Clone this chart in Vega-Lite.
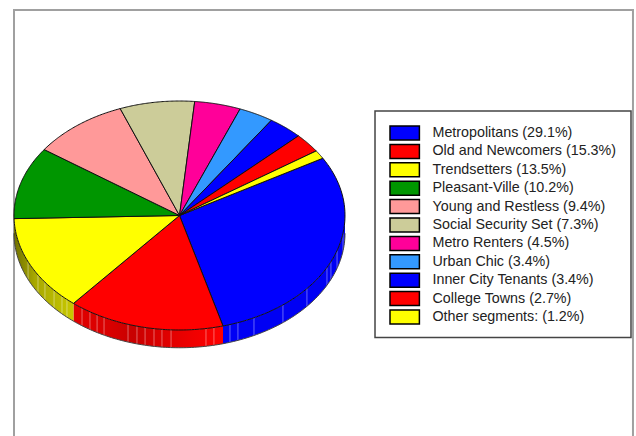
{
  "$schema": "https://vega.github.io/schema/vega-lite/v6.json",
  "width": 636,
  "height": 436,
  "padding": 0,
  "autosize": "none",
  "background": "white",
  "config": {
    "view": {"stroke": null}
  },
  "datasets": {
    "segments": [
      {"label": "Metropolitans (29.1%)", "share": 29.1},
      {"label": "Old and Newcomers (15.3%)", "share": 15.3},
      {"label": "Trendsetters (13.5%)", "share": 13.5},
      {"label": "Pleasant-Ville (10.2%)", "share": 10.2},
      {"label": "Young and Restless (9.4%)", "share": 9.4},
      {"label": "Social Security Set (7.3%)", "share": 7.3},
      {"label": "Metro Renters (4.5%)", "share": 4.5},
      {"label": "Urban Chic (3.4%)", "share": 3.4},
      {"label": "Inner City Tenants (3.4%)", "share": 3.4},
      {"label": "College Towns (2.7%)", "share": 2.7},
      {"label": "Other segments: (1.2%)", "share": 1.2}
    ],
    "rimHighlights": [
      {"rim": -0.915}, {"rim": -0.855}, {"rim": -0.813}, {"rim": -0.758}, {"rim": -0.71}, {"rim": -0.68},
      {"rim": -0.589}, {"rim": -0.541}, {"rim": -0.498}, {"rim": -0.456}, {"rim": -0.311}, {"rim": -0.257},
      {"rim": -0.208}, {"rim": -0.154}, {"rim": -0.106}, {"rim": -0.051}, {"rim": 0.16}, {"rim": 0.208},
      {"rim": 0.305}, {"rim": 0.353}, {"rim": 0.45}, {"rim": 0.625}, {"rim": 0.77}, {"rim": 0.891},
      {"rim": 0.915}, {"rim": 0.952}, {"rim": 0.988}
    ]
  },
  "layer": [
    {
      "data": {"values": [{}]},
      "mark": {"type": "rect", "fill": null, "stroke": "#a0a0a0", "strokeWidth": 2},
      "encoding": {
        "x": {"datum": -1.0, "type": "quantitative", "scale": {"domain": [-1.0846, 2.7583], "nice": false, "zero": false}, "axis": null},
        "x2": {"datum": 2.74},
        "y": {"datum": 1.795, "type": "quantitative", "scale": {"domain": [-1.9258, 1.8821], "nice": false, "zero": false}, "axis": null},
        "y2": {"datum": -2.1}
      }
    },
    {
      "data": {"values": [{}]},
      "mark": {"type": "rect", "fill": "white", "stroke": "#444444", "strokeWidth": 1.5},
      "encoding": {
        "x": {"datum": 1.1813, "type": "quantitative"},
        "x2": {"datum": 2.7281},
        "y": {"datum": 0.9127, "type": "quantitative"},
        "y2": {"datum": -1.0655}
      }
    },
    {
      "data": {"name": "segments"},
      "transform": [
        {"window": [{"op": "sum", "field": "share", "as": "cum"}]},
        {"calculate": "max(60 + (datum.cum - datum.share) * 3.6, 90)", "as": "from"},
        {"calculate": "min(60 + datum.cum * 3.6, 270)", "as": "to"},
        {"filter": "datum.label === 'Metropolitans (29.1%)'"},
        {"calculate": "sequence(0, 61)", "as": "steps"},
        {"flatten": ["steps"], "as": ["step"]},
        {"calculate": "(datum.from + (datum.to - datum.from) * datum.step / 60) * PI / 180", "as": "a"},
        {"calculate": "sin(datum.a)", "as": "x"},
        {"calculate": "cos(datum.a)", "as": "yTop"},
        {"calculate": "cos(datum.a) - 0.155", "as": "yBottom"}
      ],
      "mark": {"type": "area", "fill": "#0000f4", "opacity": 1},
      "encoding": {
        "x": {"field": "x", "type": "quantitative"},
        "y": {"field": "yBottom", "type": "quantitative"},
        "y2": {"field": "yTop"}
      }
    },
    {
      "data": {"name": "segments"},
      "transform": [
        {"window": [{"op": "sum", "field": "share", "as": "cum"}]},
        {"calculate": "max(60 + (datum.cum - datum.share) * 3.6, 90)", "as": "from"},
        {"calculate": "min(60 + datum.cum * 3.6, 270)", "as": "to"},
        {"filter": "datum.label === 'Old and Newcomers (15.3%)'"},
        {"calculate": "sequence(0, 61)", "as": "steps"},
        {"flatten": ["steps"], "as": ["step"]},
        {"calculate": "(datum.from + (datum.to - datum.from) * datum.step / 60) * PI / 180", "as": "a"},
        {"calculate": "sin(datum.a)", "as": "x"},
        {"calculate": "cos(datum.a)", "as": "yTop"},
        {"calculate": "cos(datum.a) - 0.155", "as": "yBottom"}
      ],
      "mark": {
        "type": "area",
        "opacity": 1,
        "fill": {
          "gradient": "linear", "x1": 0, "x2": 1, "y1": 0, "y2": 0,
          "stops": [
            {"offset": 0, "color": "#e00000"},
            {"offset": 0.25, "color": "#d80000"},
            {"offset": 0.4, "color": "#c80000"},
            {"offset": 0.55, "color": "#d80000"},
            {"offset": 0.8, "color": "#f00000"},
            {"offset": 1, "color": "#ff0000"}
          ]
        }
      },
      "encoding": {
        "x": {"field": "x", "type": "quantitative"},
        "y": {"field": "yBottom", "type": "quantitative"},
        "y2": {"field": "yTop"}
      }
    },
    {
      "data": {"name": "segments"},
      "transform": [
        {"window": [{"op": "sum", "field": "share", "as": "cum"}]},
        {"calculate": "max(60 + (datum.cum - datum.share) * 3.6, 90)", "as": "from"},
        {"calculate": "min(60 + datum.cum * 3.6, 270)", "as": "to"},
        {"filter": "datum.label === 'Trendsetters (13.5%)'"},
        {"calculate": "sequence(0, 61)", "as": "steps"},
        {"flatten": ["steps"], "as": ["step"]},
        {"calculate": "(datum.from + (datum.to - datum.from) * datum.step / 60) * PI / 180", "as": "a"},
        {"calculate": "sin(datum.a)", "as": "x"},
        {"calculate": "cos(datum.a)", "as": "yTop"},
        {"calculate": "cos(datum.a) - 0.155", "as": "yBottom"}
      ],
      "mark": {
        "type": "area",
        "opacity": 1,
        "fill": {
          "gradient": "linear", "x1": 0, "x2": 1, "y1": 0, "y2": 0,
          "stops": [
            {"offset": 0, "color": "#707000"},
            {"offset": 0.35, "color": "#a8a800"},
            {"offset": 1, "color": "#c8c800"}
          ]
        }
      },
      "encoding": {
        "x": {"field": "x", "type": "quantitative"},
        "y": {"field": "yBottom", "type": "quantitative"},
        "y2": {"field": "yTop"}
      }
    },
    {
      "data": {"name": "rimHighlights"},
      "transform": [
        {"calculate": "-sqrt(1 - datum.rim * datum.rim)", "as": "yTop"},
        {"calculate": "datum.yTop - 0.155", "as": "yBottom"}
      ],
      "mark": {"type": "rule", "stroke": "white", "strokeWidth": 1, "opacity": 0.4},
      "encoding": {
        "x": {"field": "rim", "type": "quantitative"},
        "y": {"field": "yTop", "type": "quantitative"},
        "y2": {"field": "yBottom"}
      }
    },
    {
      "data": {"name": "segments"},
      "transform": [
        {"window": [{"op": "sum", "field": "share", "as": "cum"}]},
        {"calculate": "max(60 + (datum.cum - datum.share) * 3.6, 90)", "as": "from"},
        {"calculate": "min(60 + datum.cum * 3.6, 270)", "as": "to"},
        {"filter": "datum.to > datum.from"},
        {"calculate": "sequence(0, 61)", "as": "steps"},
        {"flatten": ["steps"], "as": ["step"]},
        {"calculate": "(datum.from + (datum.to - datum.from) * datum.step / 60) * PI / 180", "as": "a"},
        {"calculate": "cos(datum.a) - 0.155", "as": "yBottom"},
        {"calculate": "sin(datum.a)", "as": "x"}
      ],
      "mark": {"type": "line", "stroke": "#444444", "strokeWidth": 1},
      "encoding": {
        "x": {"field": "x", "type": "quantitative"},
        "y": {"field": "yBottom", "type": "quantitative"},
        "detail": {"field": "label"},
        "order": {"field": "step", "type": "quantitative"}
      }
    },
    {
      "data": {"name": "segments"},
      "transform": [
        {"window": [{"op": "sum", "field": "share", "as": "cum"}]},
        {"calculate": "60 + (datum.cum - datum.share) * 3.6", "as": "from"},
        {"calculate": "60 + datum.cum * 3.6", "as": "to"},
        {"calculate": "sequence(-1, 62)", "as": "steps"},
        {"flatten": ["steps"], "as": ["step"]},
        {"calculate": "(datum.from + (datum.to - datum.from) * datum.step / 60) * PI / 180", "as": "a"},
        {"calculate": "datum.step < 0 || datum.step > 60 ? 0 : sin(datum.a)", "as": "x"},
        {"calculate": "datum.step < 0 || datum.step > 60 ? 0 : cos(datum.a)", "as": "y"}
      ],
      "mark": {"type": "line", "stroke": "#111111", "strokeWidth": 1, "strokeJoin": "round"},
      "encoding": {
        "x": {"field": "x", "type": "quantitative"},
        "y": {"field": "y", "type": "quantitative"},
        "order": {"field": "step", "type": "quantitative"},
        "fill": {
          "field": "label",
          "type": "nominal",
          "sort": null,
          "scale": {
            "domain": [
              "Metropolitans (29.1%)", "Old and Newcomers (15.3%)", "Trendsetters (13.5%)", "Pleasant-Ville (10.2%)",
              "Young and Restless (9.4%)", "Social Security Set (7.3%)", "Metro Renters (4.5%)", "Urban Chic (3.4%)",
              "Inner City Tenants (3.4%)", "College Towns (2.7%)", "Other segments: (1.2%)"
            ],
            "range": ["#0000ff", "#ff0000", "#ffff00", "#009600", "#ff9999", "#cccc99", "#ff0099", "#3399ff", "#0000ff", "#ff0000", "#ffff00"]
          },
          "legend": {
            "orient": "none",
            "legendX": 389,
            "legendY": 125,
            "title": null,
            "padding": 0,
            "symbolType": "M-1,-1H3.2V1H-1Z",
            "symbolSize": 196,
            "symbolStrokeColor": "black",
            "symbolStrokeWidth": 1.5,
            "symbolOpacity": 1,
            "labelFont": "Liberation Sans",
            "labelFontSize": 14.3,
            "labelColor": "#222222",
            "labelOffset": 27.5,
            "labelLimit": 300,
            "rowPadding": -1.6
          }
        }
      }
    }
  ]
}
